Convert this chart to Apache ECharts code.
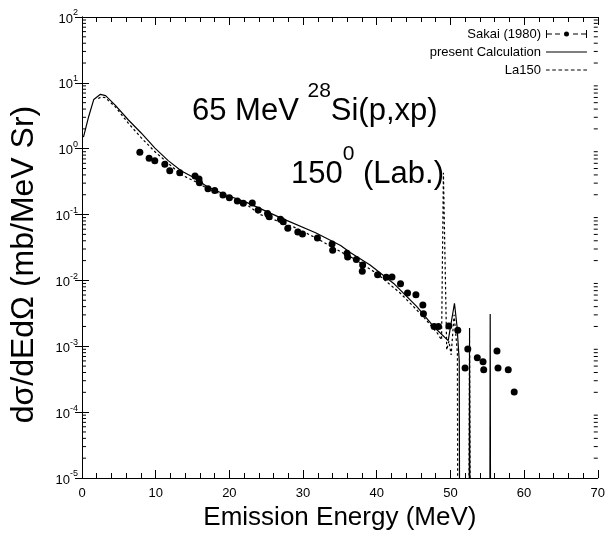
<!DOCTYPE html>
<html>
<head>
<meta charset="utf-8">
<script src="https://cdn.jsdelivr.net/npm/echarts@6.0.0/dist/echarts.min.js"></script>
<style>
html, body { margin: 0; padding: 0; background: #fff; }
#chart { width: 608px; height: 540px; }
</style>
</head>
<body>
<div id="chart"></div>
<script>
var FONT = '"Liberation Sans", Arial, Helvetica, sans-serif';
var LOW = 1e-6;   // below the axis floor, line gets clipped

// Sakai (1980) data
var sakaiE = [7.85, 9.11, 9.88, 11.24, 11.91, 13.27, 15.34, 15.88, 15.94, 17.10, 18.01, 19.13, 20.0, 21.08,
    21.89, 23.11, 23.92, 25.18, 25.41, 26.94, 27.31, 27.93, 29.29, 29.92, 31.95, 33.94, 34.02, 35.97, 36.05,
    37.23, 38.09, 38.04, 40.12, 41.29, 42.07, 43.23, 44.18, 45.32, 46.26, 46.34, 47.79, 48.38, 49.79, 51.0,
    52.36, 51.99, 53.65, 54.43, 54.52, 56.32, 56.46, 57.85, 58.66];
var sakaiV = [0.88, 0.716, 0.658, 0.58, 0.464, 0.432, 0.385, 0.347, 0.305, 0.247, 0.231, 0.198, 0.180, 0.161,
    0.148, 0.150, 0.117, 0.104, 0.093, 0.085, 0.078, 0.062, 0.0543, 0.0507, 0.044, 0.0357, 0.0287, 0.0258, 0.0227,
    0.0207, 0.0171, 0.0138, 0.0122, 0.0112, 0.0113, 0.0089, 0.00645, 0.00607, 0.00424, 0.00313, 0.00199, 0.00199,
    0.00203, 0.00175, 0.00091, 0.00047, 0.00067, 0.00058, 0.00044, 0.00085, 0.00047, 0.00044, 0.000202];

// present Calculation
var calcE = [0.2, 0.9, 1.6, 2.5, 3.2, 4.5, 6.3, 8.0, 9.9, 11.7, 13.5, 15.3, 17.0, 19.5, 22.4, 26.9, 31.7,
    35.1, 36.4, 39.1, 42.3, 45.45, 47.7, 49.7, 50.55, 50.9, 51.2, 51.25, 52.55, 52.6, 52.65, 55.35, 55.4, 55.45];
var calcV = [1.5, 3.06, 5.6, 6.7, 6.4, 4.6, 2.73, 1.75, 1.02, 0.66, 0.46, 0.36, 0.265, 0.2, 0.152, 0.09, 0.053,
    0.034, 0.0265, 0.0171, 0.009, 0.004, 0.002, 0.00122, 0.0045, 0.002, 0.0006, LOW, LOW, 0.00074, LOW, LOW, 0.0031, LOW];

// La150
var laE = [2.2, 2.6, 3.15, 4.5, 6.3, 8.1, 9.9, 11.7, 13.5, 15.3, 17.0, 22.4, 24.2, 28.7, 31.45, 35.5, 36.4,
    40.0, 43.2, 46.35, 48.25, 48.8, 49.05, 49.5, 49.8, 50.1, 50.5, 50.95, 51.0, 52.5, 52.6, 52.7];
var laV = [5.8, 6.1, 5.96, 4.35, 2.43, 1.44, 0.90, 0.60, 0.40, 0.32, 0.25, 0.14, 0.10, 0.065, 0.046, 0.0258, 0.023,
    0.0128, 0.0064, 0.0028, 0.00157, 0.00125, 0.43, 0.00088, 0.0012, 0.00074, 0.003, 0.0008, LOW, LOW, 0.0019, LOW];

// axis ticks
var xTicks = [0, 10, 20, 30, 40, 50, 60, 70];
var yDecades = [-5, -4, -3, -2, -1, 0, 1];
var minorMult = [2, 3, 4, 5, 6, 7, 8, 9];

function pairs(xs, ys) {
    var out = [];
    for (var i = 0; i < xs.length; i++) out.push([xs[i], ys[i]]);
    return out;
}

var minorTicks = [];
yDecades.forEach(function (d) {
    minorMult.forEach(function (m) {
        minorTicks.push([0, m * Math.pow(10, d)]);
    });
});

// legend icons
var ICON_SAKAI = 'path://M0,0h1v8h-1zM40,0h1v8h-1zM1,3.5h5v1h-5zM9,3.5h5v1h-5zM27,3.5h5v1h-5zM35,3.5h5v1h-5zM18,4a2.5,2.5 0 1,0 5,0a2.5,2.5 0 1,0 -5,0z';
var ICON_SOLID = 'path://M0,0h41v1.2h-41z';
var ICON_DOT = 'path://M0,0h3.5v1.2h-3.5zM6,0h3.5v1.2h-3.5zM12,0h3.5v1.2h-3.5zM18,0h3.5v1.2h-3.5zM24,0h3.5v1.2h-3.5zM30,0h3.5v1.2h-3.5zM36,0h3.5v1.2h-3.5z';

var chart = echarts.init(document.getElementById('chart'));

var xCommon = {
    type: 'value', min: 0, max: 70, interval: 10,
    axisLine: {lineStyle: {color: '#000', width: 1}},
    axisTick: {inside: true, length: 8, lineStyle: {color: '#000'}},
    minorTick: {show: true, splitNumber: 5, length: 5, lineStyle: {color: '#000'}},
    splitLine: {show: false}
};
var yCommon = {
    type: 'log', logBase: 10, min: 1e-5, max: 100,
    axisLine: {lineStyle: {color: '#000', width: 1}},
    axisTick: {inside: true, length: 7, lineStyle: {color: '#000'}},
    splitLine: {show: false}
};

// 标题的富文本样式
var titleRich = {
    a: {fontSize: 31, lineHeight: 31, fontFamily: FONT, fontWeight: 'normal', color: '#000', verticalAlign: 'bottom'},
    s: {fontSize: 21, lineHeight: 21, fontFamily: FONT, fontWeight: 'normal', color: '#000', verticalAlign: 'bottom', padding: [0, 0, 25, 0]}
};

var option = {
    animation: false,
    backgroundColor: '#fff',
    textStyle: {fontFamily: FONT},
    title: [{
        text: '{a|65 MeV }{s|28}{a|Si(p,xp)}',
        left: 192, top: 96, padding: 0,
        textStyle: {fontWeight: 'normal', rich: titleRich}
    }, {
        text: '{a|150}{s|0}{a| (Lab.)}',
        left: 291, top: 159, padding: 0,
        textStyle: {fontWeight: 'normal', rich: titleRich}
    }],
    legend: {
        orient: 'vertical', right: 21, top: 27, padding: 0,
        itemWidth: 41, itemHeight: 8, itemGap: 4, align: 'right',
        selectedMode: false,
        itemStyle: {borderWidth: 0},
        textStyle: {fontSize: 13, lineHeight: 14, fontFamily: FONT, color: '#000'},
        data: [
            {name: 'Sakai (1980)', icon: ICON_SAKAI},
            {name: 'present Calculation', icon: ICON_SOLID},
            {name: 'La150', icon: ICON_DOT}
        ]
    },
    grid: {left: 81, right: 10, top: 17, bottom: 62},
    xAxis: [
        Object.assign({}, xCommon, {
            position: 'bottom',
            name: 'Emission Energy (MeV)', nameLocation: 'middle', nameGap: 27, nameMoveOverlap: false,
            nameTextStyle: {fontSize: 26, fontFamily: FONT, color: '#000'},
            axisLabel: {
                fontSize: 13, color: '#000', margin: 9, fontFamily: FONT,
                customValues: xTicks
            }
        }),
        Object.assign({}, xCommon, {position: 'top', axisLabel: {show: false}})
    ],
    yAxis: [
        Object.assign({}, yCommon, {
            position: 'left',
            name: 'dσ/dEdΩ (mb/MeV Sr)', nameLocation: 'middle', nameGap: 42, nameMoveOverlap: false,
            nameTextStyle: {fontSize: 32, fontFamily: FONT, color: '#000', padding: [0, 34, 0, 0]},
            axisLabel: {
                margin: 4,
                formatter: function (v) {
                    var e = Math.round(Math.log(v) / Math.LN10);
                    return '{b|10}{s|' + e + '}';
                },
                rich: {
                    b: {fontSize: 13, fontFamily: FONT, color: '#000', verticalAlign: 'bottom'},
                    s: {fontSize: 9, fontFamily: FONT, color: '#000', verticalAlign: 'bottom', padding: [0, 0, 8, 0]}
                }
            }
        }),
        Object.assign({}, yCommon, {position: 'right', axisLabel: {show: false}})
    ],
    series: [
        {
            name: 'present Calculation', type: 'line',
            data: pairs(calcE, calcV),
            showSymbol: false, symbol: 'none', clip: true,
            color: '#000',
            lineStyle: {color: '#000', width: 1.2}
        },
        {
            name: 'La150', type: 'line',
            data: pairs(laE, laV),
            showSymbol: false, symbol: 'none', clip: true,
            color: '#000',
            lineStyle: {color: '#000', width: 1.2, type: [2.5, 2.5]}
        },
        {
            name: 'Sakai (1980)', type: 'scatter',
            data: pairs(sakaiE, sakaiV),
            symbol: 'circle', symbolSize: 7,
            color: '#000',
            itemStyle: {color: '#000', opacity: 1},
            z: 5
        },
        {
            name: 'minor', type: 'custom',
            data: minorTicks, silent: true,
            encode: {x: 0, y: 1},
            renderItem: function (params, api) {
                var v = api.value(1);
                var l = api.coord([0, v]);
                var r = api.coord([70, v]);
                var len = 4;
                return {
                    type: 'group',
                    children: [
                        {type: 'line', shape: {x1: l[0], y1: l[1], x2: l[0] + len, y2: l[1]}, style: {stroke: '#000', lineWidth: 1}},
                        {type: 'line', shape: {x1: r[0] - len, y1: r[1], x2: r[0], y2: r[1]}, style: {stroke: '#000', lineWidth: 1}}
                    ]
                };
            }
        }
    ]
};

chart.setOption(option);
</script>
</body>
</html>
